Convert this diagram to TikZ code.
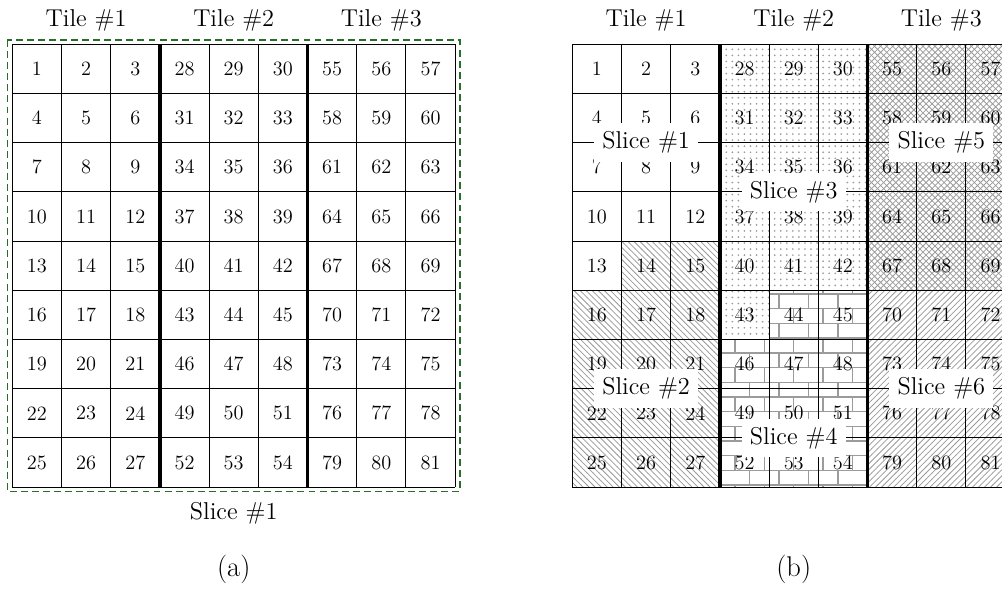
\documentclass[tikz,border=0pt]{standalone}
\usetikzlibrary{patterns}
\definecolor{dashgreen}{RGB}{40,110,40}
\definecolor{patgray}{RGB}{155,155,155}
\pgfdeclarepatternformonly{mydots}{\pgfqpoint{-1pt}{-1pt}}{\pgfqpoint{1pt}{1pt}}{\pgfqpoint{3.5pt}{3.5pt}}{%
  \pgfpathcircle{\pgfpointorigin}{0.55pt}\pgfusepath{fill}}
\pgfdeclarepatternformonly{mynwlines}{\pgfqpoint{-1pt}{-1pt}}{\pgfqpoint{4.5pt}{4.5pt}}{\pgfqpoint{3.5pt}{3.5pt}}{%
  \pgfsetlinewidth{0.45pt}
  \pgfpathmoveto{\pgfqpoint{-0.1pt}{3.6pt}}\pgfpathlineto{\pgfqpoint{3.6pt}{-0.1pt}}
  \pgfusepath{stroke}}
\pgfdeclarepatternformonly{mynelines}{\pgfqpoint{-1pt}{-1pt}}{\pgfqpoint{4.5pt}{4.5pt}}{\pgfqpoint{3.5pt}{3.5pt}}{%
  \pgfsetlinewidth{0.45pt}
  \pgfpathmoveto{\pgfqpoint{-0.1pt}{-0.1pt}}\pgfpathlineto{\pgfqpoint{3.6pt}{3.6pt}}
  \pgfusepath{stroke}}
\pgfdeclarepatternformonly{mycross}{\pgfqpoint{-1pt}{-1pt}}{\pgfqpoint{4.5pt}{4.5pt}}{\pgfqpoint{3.5pt}{3.5pt}}{%
  \pgfsetlinewidth{0.45pt}
  \pgfpathmoveto{\pgfqpoint{-0.1pt}{-0.1pt}}\pgfpathlineto{\pgfqpoint{3.6pt}{3.6pt}}
  \pgfpathmoveto{\pgfqpoint{-0.1pt}{3.6pt}}\pgfpathlineto{\pgfqpoint{3.6pt}{-0.1pt}}
  \pgfusepath{stroke}}
\pgfdeclarepatternformonly{mybricks}{\pgfqpoint{-1pt}{-1pt}}{\pgfqpoint{18pt}{18pt}}{\pgfqpoint{17pt}{17pt}}{%
  \pgfsetlinewidth{0.8pt}
  \pgfpathmoveto{\pgfqpoint{-0.5pt}{0pt}}\pgfpathlineto{\pgfqpoint{17.5pt}{0pt}}
  \pgfpathmoveto{\pgfqpoint{-0.5pt}{8.5pt}}\pgfpathlineto{\pgfqpoint{17.5pt}{8.5pt}}
  \pgfpathmoveto{\pgfqpoint{0pt}{0pt}}\pgfpathlineto{\pgfqpoint{0pt}{8.5pt}}
  \pgfpathmoveto{\pgfqpoint{8.5pt}{8.5pt}}\pgfpathlineto{\pgfqpoint{8.5pt}{17pt}}
  \pgfusepath{stroke}}
\tikzset{
  cellnum/.style={font=\fontsize{11.76}{14}\selectfont, inner sep=0pt},
  toplbl/.style={font=\fontsize{14.1}{17}\selectfont, inner sep=0pt, anchor=base},
  capt/.style={font=\fontsize{16.5}{20}\selectfont, inner sep=0pt, anchor=base},
  slicelbl/.style={font=\fontsize{14.1}{17}\selectfont, fill=white, inner sep=4.8pt},
  gridline/.style={line width=0.6pt},
  tileline/.style={line width=1.9pt},
  sliceframe/.style={draw=dashgreen, line width=0.75pt, dash pattern=on 4pt off 2.4pt},
  patfill/.style={pattern color=patgray}
}
\begin{document}
\begin{tikzpicture}[x=0.0203252cm, y=-0.0203252cm]
\clip (0,0) rectangle (1002,588);

% ---------------- (a) ----------------
\begin{scope}[shift={(12.3,44.3)}, x=1cm, y=-1cm]
  \foreach \r in {0,...,8} {
    \foreach \c in {0,...,8} {
      \pgfmathtruncatemacro\n{27*floor(\c/3)+3*\r+mod(\c,3)+1}
      \node[cellnum] (a\n) at (\c+0.5,\r+0.5) {\n};
    }
  }
  \foreach \i in {0,...,9} {
    \draw[gridline] (\i,0) -- (\i,9);
    \draw[gridline] (0,\i) -- (9,\i);
  }
  \draw[tileline] (3,0) -- (3,9);
  \draw[tileline] (6,0) -- (6,9);
  \draw[sliceframe] (-0.1,-0.085) rectangle (9.1,9.09);
  \node[toplbl] (at1) at (1.5,-0.357) {Tile \#1};
  \node[toplbl] (at2) at (4.5,-0.357) {Tile \#2};
  \node[toplbl] (at3) at (7.5,-0.357) {Tile \#3};
  \node[toplbl] (as1) at (4.5,9.648) {Slice \#1};
  \node[capt] (capa) at (4.5,10.82) {(a)};
\end{scope}

% ---------------- (b) ----------------
\begin{scope}[shift={(572.3,44.3)}, x=1cm, y=-1cm]
  \fill[patfill, pattern=mynwlines] (1,4) -- (3,4) -- (3,9) -- (0,9) -- (0,5) -- (1,5) -- cycle;
  \fill[patfill, pattern=mydots] (3,0) -- (6,0) -- (6,5) -- (4,5) -- (4,6) -- (3,6) -- cycle;
  \fill[patfill, pattern=mybricks] (4,5) -- (6,5) -- (6,9) -- (3,9) -- (3,6) -- (4,6) -- cycle;
  \fill[patfill, pattern=mycross] (6,0) rectangle (9,5);
  \fill[patfill, pattern=mynelines] (6,5) rectangle (9,9);
  \foreach \r in {0,...,8} {
    \foreach \c in {0,...,8} {
      \pgfmathtruncatemacro\n{27*floor(\c/3)+3*\r+mod(\c,3)+1}
      \node[cellnum] (b\n) at (\c+0.5,\r+0.5) {\n};
    }
  }
  \foreach \i in {0,...,9} {
    \draw[gridline] (\i,0) -- (\i,9);
    \draw[gridline] (0,\i) -- (9,\i);
  }
  \draw[tileline] (3,0) -- (3,9);
  \draw[tileline] (6,0) -- (6,9);
  \node[slicelbl] (bs1) at (1.5,2) {Slice \#1};
  \node[slicelbl] (bs2) at (1.5,7) {Slice \#2};
  \node[slicelbl] (bs3) at (4.5,3) {Slice \#3};
  \node[slicelbl] (bs4) at (4.5,8) {Slice \#4};
  \node[slicelbl] (bs5) at (7.5,2) {Slice \#5};
  \node[slicelbl] (bs6) at (7.5,7) {Slice \#6};
  \node[toplbl] (bt1) at (1.5,-0.357) {Tile \#1};
  \node[toplbl] (bt2) at (4.5,-0.357) {Tile \#2};
  \node[toplbl] (bt3) at (7.5,-0.357) {Tile \#3};
  \node[capt] (capb) at (4.5,10.82) {(b)};
\end{scope}
\end{tikzpicture}
\end{document}
